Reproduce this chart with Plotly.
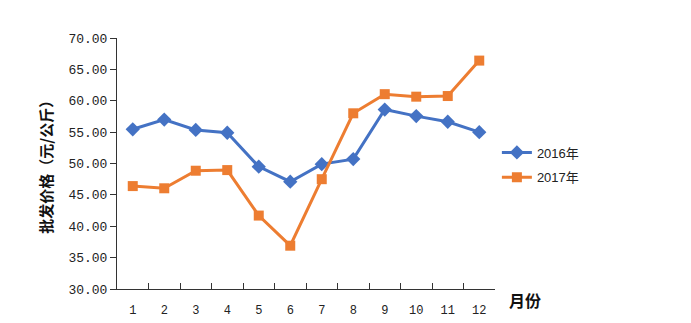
import plotly.graph_objects as go

months = ["1", "2", "3", "4", "5", "6", "7", "8", "9", "10", "11", "12"]
price_2016 = [55.45, 57.0, 55.35, 54.9, 49.5, 47.1, 49.9, 50.7, 58.6, 57.55, 56.65, 55.0]
price_2017 = [46.4, 46.05, 48.85, 48.95, 41.7, 36.9, 47.5, 58.0, 61.05, 60.65, 60.75, 66.4]
y_ticks = [30, 35, 40, 45, 50, 55, 60, 65, 70]
y_tick_text = ["%.2f" % v for v in y_ticks]

fig = go.Figure()
fig.add_trace(go.Scatter(
    x=months, y=price_2016, name="2016年", mode="lines+markers",
    legendgroup="a",
    line=dict(color="#4472C4", width=3),
    marker=dict(symbol="diamond", size=11, color="#4472C4"),
))
fig.add_trace(go.Scatter(
    x=months, y=price_2017, name="2017年", mode="lines+markers",
    legendgroup="b",
    line=dict(color="#ED7D31", width=3),
    marker=dict(symbol="square", size=10, color="#ED7D31"),
))

fig.update_layout(
    width=691, height=323,
    margin=dict(l=117, r=196, t=38, b=34, autoexpand=False),
    paper_bgcolor="white", plot_bgcolor="white",
    font=dict(family="Liberation Mono, DejaVu Sans Mono", size=12, color="#222"),
    legend=dict(
        x=1.005, y=0.494, xanchor="left", yanchor="middle",
        font=dict(family="Liberation Sans, Noto Sans CJK SC", size=13, color="#222"),
        itemwidth=30, traceorder="grouped", tracegroupgap=5, bgcolor="rgba(0,0,0,0)",
    ),
    xaxis=dict(
        type="category", range=[-0.5, 11.5], automargin=False,
        showline=True, linecolor="#333", linewidth=1,
        ticks="inside", tickson="boundaries", ticklen=6, tickcolor="#333",
        showgrid=False, zeroline=False,
        ticklabelstandoff=10,
        tickfont=dict(family="Liberation Mono, DejaVu Sans Mono", size=12, color="#222"),
    ),
    yaxis=dict(
        range=[30, 70], tickvals=y_ticks, ticktext=y_tick_text, automargin=False,
        showline=True, linecolor="#333", linewidth=1,
        ticks="outside", ticklen=6, tickcolor="#333",
        showgrid=False, zeroline=False,
        tickfont=dict(family="Liberation Mono, DejaVu Sans Mono", size=13, color="#222"),
    ),
    showlegend=True,
)

fig.add_annotation(
    text="<b>月份</b>", xref="paper", yref="paper", x=1.032, y=-0.045,
    xanchor="left", yanchor="middle", showarrow=False,
    font=dict(family="Noto Sans CJK SC", size=16, color="#111"),
)
fig.add_annotation(
    text="<b>批发价格（元/公斤）</b>", xref="paper", yref="paper",
    x=-0.19, y=0.5, xanchor="center", yanchor="middle", textangle=-90,
    showarrow=False,
    font=dict(family="Noto Sans CJK SC", size=15, color="#111"),
)

fig.write_html("out.html")
